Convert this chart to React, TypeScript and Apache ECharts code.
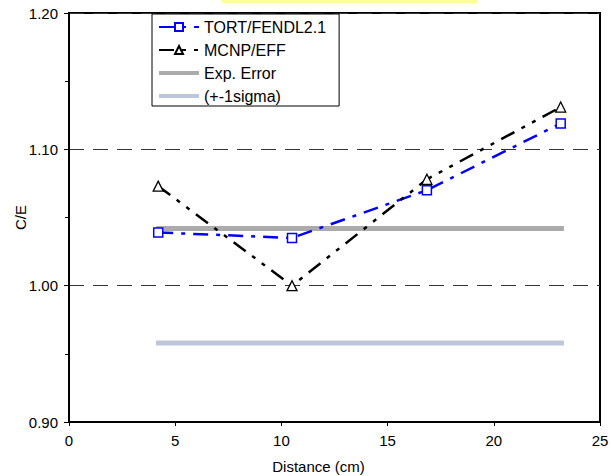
import React, { useEffect, useRef } from "react";
import * as echarts from "echarts";

const distances = [4.2, 10.5, 16.85, 23.15];
const tortValues = [1.039, 1.035, 1.07, 1.119];
const mcnpValues = [1.073, 1.0, 1.078, 1.131];
const expErrorX = [4.1, 23.3];
const expUpper = [1.042, 1.042];
const expLower = [0.958, 0.958];

const seriesNames = ["TORT/FENDL2.1", "MCNP/EFF", "Exp. Error", "(+-1sigma)"];
const FONT = "'Liberation Sans', Arial, sans-serif";

export default function App() {
  const ref = useRef<HTMLDivElement>(null);
  useEffect(() => {
    if (!ref.current) return;
    const chart = echarts.init(ref.current, undefined, { renderer: "svg" });
    const pair = (xs: number[], ys: number[]) => xs.map((x, i) => [x, ys[i]]);
    chart.setOption({
      animation: false,
      backgroundColor: "#ffffff",
      textStyle: { fontFamily: FONT },
      grid: {
        left: 69,
        right: 10,
        top: 13,
        bottom: 54,
        containLabel: false,
        outerBoundsMode: "none",
        show: true,
        borderColor: "#000",
        borderWidth: 2,
      },
      graphic: [
        {
          type: "rect",
          shape: { x: 222, y: 0, width: 255, height: 3 },
          style: { fill: "#ffff99" },
        },
      ],
      legend: {
        data: [
          { name: seriesNames[0] },
          { name: seriesNames[1] },
          { name: seriesNames[2], itemStyle: { opacity: 0 }, lineStyle: { width: 4 } },
          { name: seriesNames[3], itemStyle: { opacity: 0 }, lineStyle: { width: 4 } },
        ],
        left: 152,
        top: 14,
        orient: "vertical",
        itemWidth: 40,
        itemHeight: 10,
        itemGap: 7,
        padding: [5, 13, 2, 5],
        borderColor: "#000",
        borderWidth: 1,
        backgroundColor: "#fff",
        textStyle: { fontSize: 16, fontFamily: FONT, color: "#000" },
      },
      xAxis: {
        type: "value",
        min: 0,
        max: 25,
        interval: 5,
        name: "Distance (cm)",
        nameLocation: "middle",
        nameGap: 37,
        nameMoveOverlap: false,
        nameTextStyle: { fontSize: 15, color: "#000", fontFamily: FONT, padding: [0, 32, 0, 0] },
        axisLine: { show: true, lineStyle: { color: "#000", width: 2 } },
        axisTick: { show: true, inside: false, length: 4, lineStyle: { color: "#000" } },
        axisLabel: { fontSize: 15, color: "#000", margin: 11, fontFamily: FONT },
        splitLine: { show: false },
      },
      yAxis: {
        type: "value",
        min: 0.9,
        max: 1.2,
        interval: 0.1,
        name: "C/E",
        nameLocation: "middle",
        nameGap: 41,
        nameMoveOverlap: false,
        nameRotate: 90,
        nameTextStyle: { fontSize: 15, color: "#000", fontFamily: FONT },
        axisLine: { show: true, lineStyle: { color: "#000", width: 2 } },
        axisTick: { show: true, inside: false, length: 5, lineStyle: { color: "#000" } },
        minorTick: { show: true, splitNumber: 2, length: 4, lineStyle: { color: "#000" } },
        axisLabel: {
          fontSize: 15,
          color: "#000",
          margin: 11,
          fontFamily: FONT,
          formatter: (v: number) => v.toFixed(2),
        },
        splitLine: { show: true, lineStyle: { color: "#333", width: 1, type: [15, 9] } },
      },
      series: [
        {
          name: "Exp. Error",
          type: "line",
          data: pair(expErrorX, expUpper),
          symbol: "none",
          lineStyle: { color: "#ababab", width: 5 },
          itemStyle: { color: "#ababab" },
          z: 1,
        },
        {
          name: "(+-1sigma)",
          type: "line",
          data: pair(expErrorX, expLower),
          symbol: "none",
          lineStyle: { color: "#bcc7d9", width: 5 },
          itemStyle: { color: "#bcc7d9" },
          z: 1,
        },
        {
          name: "MCNP/EFF",
          type: "line",
          data: pair(distances, mcnpValues),
          symbol: "triangle",
          symbolSize: 10,
          lineStyle: { color: "#000", width: 2.5, type: [15, 8, 4, 8, 4, 8] },
          itemStyle: { color: "#fff", borderColor: "#000", borderWidth: 1.3 },
          z: 3,
        },
        {
          name: "TORT/FENDL2.1",
          type: "line",
          data: pair(distances, tortValues),
          symbol: "rect",
          symbolSize: 9,
          lineStyle: { color: "#0000ff", width: 2.5, type: [15, 8, 4, 8] },
          itemStyle: { color: "#fff", borderColor: "#0000ff", borderWidth: 1.5 },
          z: 2,
        },
      ],
    });
    return () => chart.dispose();
  }, []);
  return <div ref={ref} style={{ width: 610, height: 476, position: "absolute", left: 0, top: 0 }} />;
}
